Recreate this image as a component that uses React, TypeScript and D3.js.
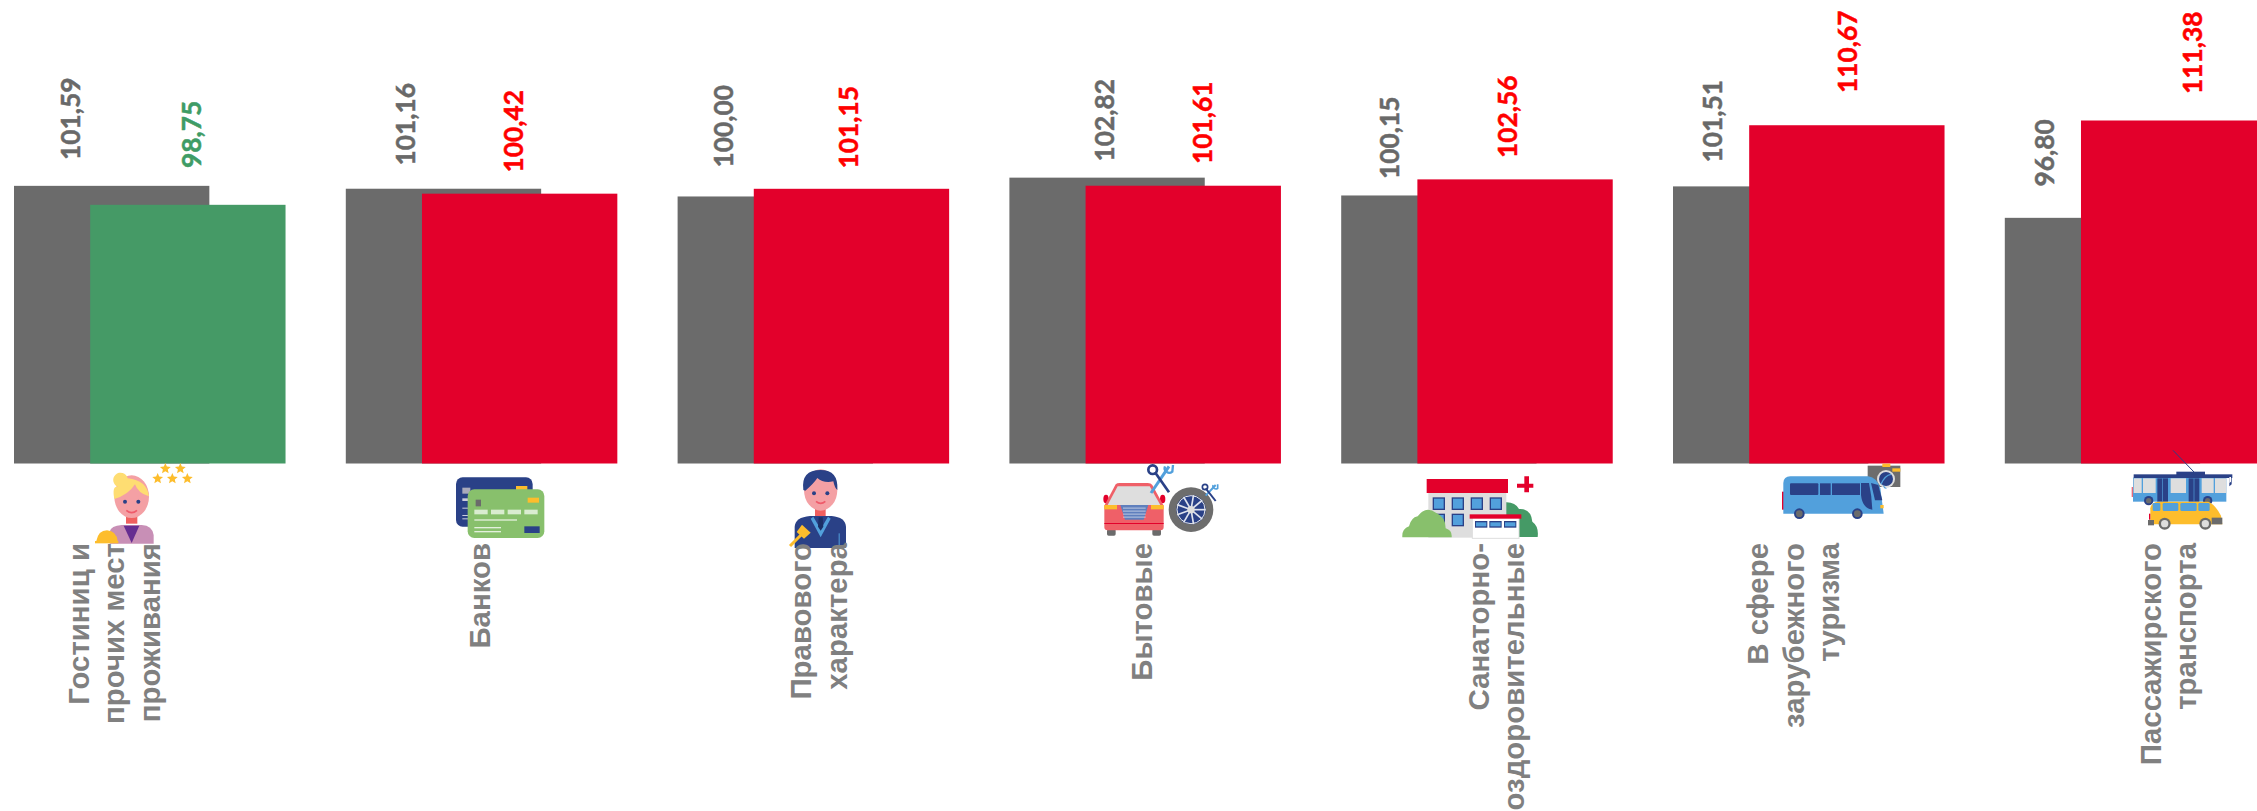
import React from "react";
import * as d3 from "d3";

const categoryLines: string[][] = [
  ["Гостиниц и", "прочих мест", "проживания"],
  ["Банков"],
  ["Правового", "характера"],
  ["Бытовые"],
  ["Санаторно-", "оздоровительные"],
  ["В сфере", "зарубежного", "туризма"],
  ["Пассажирского", "транспорта"],
];
const previousValues = [101.59, 101.16, 100.0, 102.82, 100.15, 101.51, 96.8];
const currentValues = [98.75, 100.42, 101.15, 101.61, 102.56, 110.67, 111.38];

// hand-placed label positions in the source slide
const prevLabelX = [71, 405.5, 723.5, 1105, 1390, 1712.5, 2045];
const prevLabelBottom = [160, 165.5, 167.5, 161.5, 179, 162.5, 186.5];
const currLabelX = [192, 514, 849, 1203, 1507.5, 1848, 2192.5];
const currLabelBottom = [168, 172.5, 168.5, 164, 158, 93, 94];
const catBaselines = [
  [89, 124, 160],
  [490],
  [811, 847],
  [1152],
  [1489, 1524],
  [1768, 1804, 1839],
  [2161, 2196],
];

const W = 2257;
const H = 811;
const GRAY = "#6b6b6b";
const RED = "#e3002b";
const GREEN = "#459a66";
const NAVY = "#2a4187";
const BLUE = "#52a0dc";
const LGREEN = "#88c06c";
const YEL = "#fdbd2c";
const SKIN = "#f4a0a4";
const LG = "#dedede";

const x = d3
  .scaleBand<number>()
  .domain(d3.range(categoryLines.length))
  .range([14, 14 + 331.8 * (categoryLines.length - 0.18)])
  .paddingInner(0.18)
  .paddingOuter(0)
  .align(0);
const y = d3.scaleLinear().domain([60, 111.38]).range([463.5, 120.5]);
const barW = x.bandwidth() * 0.718;
const redOffset = x.bandwidth() * 0.28;

const star = (cx: number, cy: number, r: number) =>
  d3.range(10).map((i) => {
    const a = (i * Math.PI) / 5 - Math.PI / 2;
    const rr = i % 2 ? r * 0.45 : r;
    return [cx + rr * Math.cos(a), cy + rr * Math.sin(a)].join(",");
  }).join(" ");

const Ico = ({ x: ox, y: oy, children }: any) => (
  <g transform={`translate(${ox},${oy}) scale(${1 / 3})`}>{children}</g>
);

const Icons = () => (
  <g>
    {/* hotel receptionist */}
    <Ico x={85} y={455}>
      {[[241, 41], [286, 41], [218, 71], [262, 71], [307, 71]].map(([a, b], i) => (
        <polygon key={i} points={star(a, b, 17)} fill={YEL} />
      ))}
      <rect x="123" y="180" width="34" height="26" fill="#f0605f" />
      <path d="M74 266 V230 Q78 212 110 210 L170 210 Q202 212 206 240 V266 Z" fill="#c88fb6" />
      <path d="M116 212 H163 L140 264 Z" fill="#662d91" />
      <ellipse cx="140" cy="125" rx="52" ry="64" fill={SKIN} />
      <path d="M88 132 Q80 90 100 96 A22 22 0 1 1 128 70 Q186 76 192 124 Q160 116 150 88 Q130 120 88 132 Z" fill="#fedd72" />
      <circle cx="120" cy="140" r="6" fill={NAVY} />
      <circle cx="160" cy="140" r="6" fill={NAVY} />
      <path d="M124 166 Q140 180 156 166" stroke="#ef5a6a" strokeWidth="5" fill="none" />
      <path d="M34 258 Q40 226 66 226 Q94 228 98 258 Z" fill={YEL} />
      <rect x="30" y="258" width="70" height="7" fill={YEL} />
    </Ico>
    {/* bank cards */}
    <Ico x={445} y={465}>
      <rect x="33" y="37" width="230" height="148" rx="20" fill={NAVY} />
      <rect x="213" y="63" width="34" height="14" fill={YEL} />
      <rect x="52" y="68" width="24" height="18" fill="#aab" />
      <rect x="52" y="100" width="18" height="8" fill="#ccd" />
      <rect x="52" y="128" width="18" height="3" fill="#ccd" />
      <rect x="52" y="150" width="18" height="3" fill="#ccd" />
      <rect x="52" y="160" width="18" height="3" fill="#ccd" />
      <rect x="68" y="73" width="230" height="146" rx="20" fill={LGREEN} />
      <rect x="248" y="98" width="34" height="15" fill={YEL} />
      <rect x="92" y="104" width="16" height="20" fill="#6b6b6b" />
      {[88, 138, 188, 238].map((a) => (
        <rect key={a} x={a} y="134" width="40" height="14" fill="#d9ecd0" />
      ))}
      <rect x="88" y="163" width="128" height="4" fill="#e3f0dc" />
      <rect x="88" y="186" width="80" height="4" fill="#e3f0dc" />
      <rect x="88" y="198" width="80" height="4" fill="#e3f0dc" />
      <rect x="238" y="184" width="46" height="20" fill={NAVY} />
    </Ico>
    {/* lawyer */}
    <Ico x={780} y={460}>
      <rect x="105" y="140" width="32" height="28" fill="#f0605f" />
      <path d="M44 264 V200 Q46 172 90 168 H155 Q196 172 198 200 V264 Z" fill={NAVY} />
      <path d="M100 170 L122 208 L144 170 L152 176 L122 232 L92 176 Z" fill={BLUE} />
      <path d="M116 172 H128 L130 200 L122 212 L114 200 Z" fill="#1c2f66" />
      <rect x="176" y="220" width="3" height="44" fill={BLUE} />
      <ellipse cx="122" cy="90" rx="50" ry="62" fill={SKIN} />
      <path d="M70 90 Q62 30 122 30 Q176 30 172 90 Q164 84 160 64 Q130 70 112 54 Q100 72 76 92 Z" fill={NAVY} />
      <circle cx="102" cy="100" r="6" fill={NAVY} />
      <circle cx="142" cy="100" r="6" fill={NAVY} />
      <path d="M108 124 Q122 136 136 124" stroke="#ef5a6a" strokeWidth="5" fill="none" />
      <path d="M30 258 L66 222" stroke={YEL} strokeWidth="9" />
      <path d="M50 216 L66 194 L92 218 L72 236 Z" fill={YEL} />
    </Ico>
    {/* car & tyre */}
    <Ico x={1095} y={455}>
      <rect x="36" y="222" width="26" height="20" rx="5" fill="#6b6b6b" />
      <rect x="172" y="222" width="26" height="20" rx="5" fill="#6b6b6b" />
      <ellipse cx="33" cy="132" rx="8" ry="13" fill={RED} />
      <ellipse cx="203" cy="132" rx="8" ry="13" fill={RED} />
      <path d="M28 152 L62 88 Q66 84 74 84 H158 Q168 84 172 90 L206 152 V216 Q206 226 196 226 H38 Q28 226 28 216 Z" fill="#ef6068" />
      <path d="M38 150 L68 94 H164 L196 150 Z" fill={LG} />
      <rect x="28" y="150" width="38" height="13" fill={YEL} />
      <rect x="168" y="150" width="38" height="13" fill={YEL} />
      <path d="M76 150 H160 L146 194 H90 Z" fill="#5f7fbd" />
      {[158, 167, 176, 185].map((b) => (
        <rect key={b} x="84" y={b} width="68" height="2.5" fill="#cfd8ea" />
      ))}
      <rect x="28" y="204" width="178" height="3" fill={RED} />
      <path d="M168 114 L222 34" stroke={BLUE} strokeWidth="9" />
      <path d="M180 52 L222 112" stroke={NAVY} strokeWidth="8" />
      <circle cx="173" cy="44" r="13" fill="none" stroke={NAVY} strokeWidth="8" />
      <path d="M210 34 A14 14 0 0 0 232 50 L234 30" stroke={BLUE} strokeWidth="7" fill="none" />
      <ellipse cx="288" cy="164" rx="67" ry="67" fill="#6d6d6d" />
      <circle cx="288" cy="164" r="44" fill={NAVY} />
      <circle cx="288" cy="164" r="42" fill="none" stroke="#e8e8e8" strokeWidth="3" />
      {d3.range(9).map((i) => {
        const a = (i * 2 * Math.PI) / 9;
        return (
          <line key={i} x1={288} y1={164} x2={288 + 44 * Math.cos(a)} y2={164 + 44 * Math.sin(a)} stroke="#dfe3ee" strokeWidth="5" />
        );
      })}
      <circle cx="288" cy="164" r="11" fill={LG} />
      <path d="M332 122 L362 90" stroke={BLUE} strokeWidth="6" />
      <path d="M332 100 L362 138" stroke={NAVY} strokeWidth="6" />
      <circle cx="330" cy="96" r="8" fill="none" stroke={NAVY} strokeWidth="5" />
      <path d="M354 90 A9 9 0 0 0 368 100 L368 88" stroke={BLUE} strokeWidth="5" fill="none" />
    </Ico>
    {/* sanatorium */}
    <Ico x={1395} y={465}>
      <path d="M366 56 H388 V34 H402 V56 H415 V68 H402 V82 H388 V68 H366 Z" fill={RED} />
      <path d="M330 216 V112 Q360 110 372 132 Q408 130 412 170 Q432 184 428 216 Z" fill={GREEN} />
      <rect x="100" y="82" width="234" height="136" fill={LG} />
      <rect x="95" y="42" width="244" height="42" fill={RED} />
      {[113, 170, 227, 284].map((a) => (
        <g key={a}>
          <rect x={a} y="97" width="37" height="38" fill={NAVY} />
          <rect x={a + 4} y="101" width="29" height="30" fill={BLUE} />
        </g>
      ))}
      {[113, 170].map((a) => (
        <g key={a}>
          <rect x={a} y="146" width="37" height="38" fill={NAVY} />
          <rect x={a + 4} y="150" width="29" height="30" fill={BLUE} />
        </g>
      ))}
      <rect x="232" y="158" width="140" height="62" fill="#fff" stroke={LG} strokeWidth="3" />
      <rect x="224" y="148" width="155" height="13" fill={RED} />
      {[240, 283, 327].map((a) => (
        <g key={a}>
          <rect x={a} y="168" width="37" height="20" fill={NAVY} />
          <rect x={a + 3} y="172" width="31" height="12" fill={BLUE} />
        </g>
      ))}
      <path d="M22 217 Q20 192 42 184 Q48 158 68 154 Q92 120 124 144 Q152 156 152 190 Q172 196 170 217 Z" fill={LGREEN} />
    </Ico>
    {/* tour bus */}
    <Ico x={1775} y={455}>
      <rect x="278" y="32" width="98" height="64" fill="#6d6d6d" />
      <rect x="322" y="26" width="24" height="10" fill={YEL} />
      <rect x="352" y="40" width="24" height="10" fill={YEL} />
      <circle cx="333" cy="72" r="27" fill={LG} />
      <circle cx="333" cy="72" r="21" fill={NAVY} />
      <path d="M318 88 Q330 60 348 58" stroke={BLUE} strokeWidth="4" fill="none" />
      <rect x="21" y="110" width="6" height="54" fill={RED} />
      <path d="M25 84 Q26 64 46 64 H280 Q306 68 316 100 L326 176 H25 Z" fill={BLUE} />
      <path d="M322 88 L336 102 L328 100 Z" fill={BLUE} />
      <rect x="45" y="85" width="85" height="35" rx="3" fill={NAVY} />
      <rect x="135" y="85" width="32" height="35" fill={NAVY} />
      <rect x="171" y="85" width="84" height="35" fill={NAVY} />
      <path d="M258 84 H282 Q290 120 292 164 Q262 160 258 120 Z" fill={NAVY} />
      <path d="M288 84 L310 90 L322 136 H300 Z" fill={NAVY} />
      <rect x="316" y="150" width="10" height="10" fill={YEL} />
      <circle cx="73" cy="176" r="16" fill={NAVY} />
      <circle cx="73" cy="176" r="10" fill="#6b6b6b" />
      <circle cx="247" cy="176" r="16" fill={NAVY} />
      <circle cx="247" cy="176" r="10" fill="#6b6b6b" />
    </Ico>
    {/* trolleybus + minibus */}
    <Ico x={2115} y={445}>
      <path d="M174 16 L238 82" stroke={NAVY} strokeWidth="3" fill="none" />
      <rect x="184" y="80" width="86" height="10" fill={NAVY} />
      <rect x="50" y="126" width="6" height="30" fill="#e86a7a" />
      <rect x="54" y="98" width="280" height="72" fill={BLUE} />
      <rect x="56" y="88" width="296" height="11" fill={NAVY} />
      <path d="M343 92 H350 V118 L343 124 Z" fill={NAVY} />
      <path d="M343 96 H348 V110 L343 114 Z" fill="#fff" />
      {[[56, 24], [84, 38], [167, 46], [260, 36], [300, 34]].map(([a, w]) => (
        <rect key={a} x={a} y="100" width={w} height="44" fill={LG} />
      ))}
      <rect x="127" y="100" width="32" height="70" fill={NAVY} />
      <rect x="221" y="100" width="32" height="70" fill={NAVY} />
      <rect x="142" y="100" width="2" height="70" fill={BLUE} />
      <rect x="236" y="100" width="2" height="70" fill={BLUE} />
      <circle cx="101" cy="167" r="14" fill={NAVY} />
      <circle cx="101" cy="167" r="8" fill="#6b6b6b" />
      <circle cx="278" cy="167" r="14" fill={NAVY} />
      <circle cx="278" cy="167" r="8" fill="#6b6b6b" />
      <path d="M106 238 L106 190 Q110 170 130 170 H280 Q300 178 318 212 L322 238 Z" fill={YEL} />
      {[[113, 23], [143, 47], [196, 49], [250, 34]].map(([a, w]) => (
        <rect key={a} x={a} y="174" width={w} height="24" rx="4" fill={BLUE} />
      ))}
      <rect x="99" y="225" width="18" height="16" fill="#6b6b6b" />
      <rect x="290" y="218" width="32" height="20" fill="#6b6b6b" />
      <rect x="102" y="206" width="4" height="18" fill={RED} />
      <circle cx="149" cy="236" r="18" fill="#6b6b6b" />
      <circle cx="149" cy="236" r="11" fill={LG} />
      <circle cx="271" cy="236" r="18" fill="#6b6b6b" />
      <circle cx="271" cy="236" r="11" fill={LG} />
    </Ico>
  </g>
);

export default function App() {
  const idx = d3.range(categoryLines.length);
  return (
    <svg
      width={W}
      height={H}
      viewBox={`0 0 ${W} ${H}`}
      style={{ position: "absolute", left: 0, top: 0, display: "block", background: "#fff" }}
    >
      {idx.map((i) => (
        <rect key={i} x={x(i)} y={y(previousValues[i])} width={barW} height={y(60) - y(previousValues[i])} fill={GRAY} />
      ))}
      {idx.map((i) => (
        <rect
          key={i}
          x={x(i)! + redOffset}
          y={y(currentValues[i])}
          width={barW}
          height={y(60) - y(currentValues[i])}
          fill={currentValues[i] < 100 ? GREEN : RED}
        />
      ))}
      <Icons />
      <g fontFamily="Lato, sans-serif" fontWeight={700} fontSize={26.3} strokeWidth={0.5}>
        {idx.map((i) => (
          <text
            key={i}
            transform={`translate(${prevLabelX[i] + 9},${prevLabelBottom[i]}) rotate(-90)`}
            fill="#696969"
            stroke="#696969"
          >
            {previousValues[i].toFixed(2).replace(".", ",")}
          </text>
        ))}
        {idx.map((i) => {
          const c = currentValues[i] < 100 ? "#3f9c66" : "#ff0000";
          return (
            <text
              key={i}
              transform={`translate(${currLabelX[i] + 9},${currLabelBottom[i]}) rotate(-90)`}
              fill={c}
              stroke={c}
            >
              {currentValues[i].toFixed(2).replace(".", ",")}
            </text>
          );
        })}
      </g>
      <g fontFamily="'Liberation Sans', Arial, sans-serif" fontWeight={700} fontSize={29.4} fill="#808080">
        {categoryLines.map((lines, i) =>
          lines.map((t, j) => (
            <text key={j} transform={`translate(${catBaselines[i][j]},543) rotate(-90)`} textAnchor="end">
              {t}
            </text>
          ))
        )}
      </g>
    </svg>
  );
}
